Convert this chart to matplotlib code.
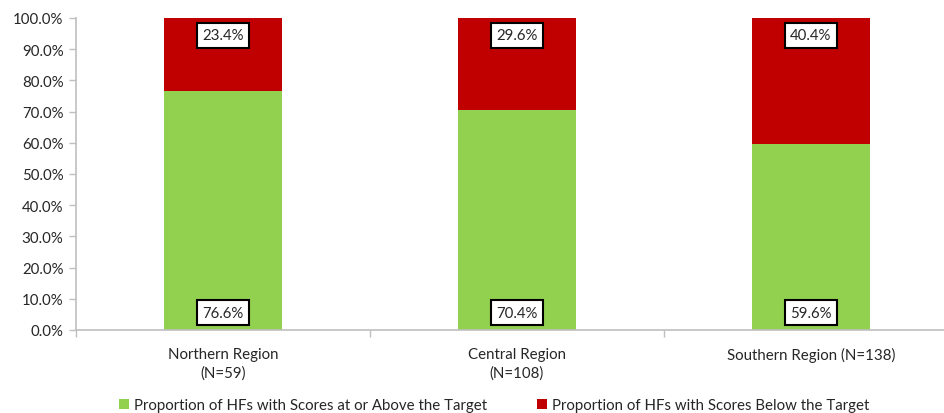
import matplotlib
matplotlib.use("Agg")
import matplotlib.pyplot as plt
import numpy as np

categories = ["Northern Region\n(N=59)", "Central Region\n(N=108)", "Southern Region (N=138)"]
above = [76.6, 70.4, 59.6]
below = [23.4, 29.6, 40.4]
series_names = ["Proportion of HFs with Scores at or Above the Target",
                "Proportion of HFs with Scores Below the Target"]
yticks = [0, 10, 20, 30, 40, 50, 60, 70, 80, 90, 100]

plt.rcParams['font.family'] = ['Lato', 'DejaVu Sans']
green = "#92D050"
red = "#C00000"
axc = "#BFBFBF"
txt = "#262626"
fs = 10.8

fig = plt.figure(figsize=(9.45, 4.14), dpi=100)
W, H = 945, 414
left, right, top, bottom = 76, 958, 19, 331
ax = fig.add_axes([left / W, 1 - bottom / H, (right - left) / W, (bottom - top) / H])

x = np.arange(len(categories))
bw = 0.40
ax.bar(x, above, bw, color=green, label=series_names[0], zorder=2)
ax.bar(x, below, bw, bottom=above, color=red, label=series_names[1], zorder=2)

box = dict(boxstyle="square,pad=0.38", fc="white", ec="black", lw=1.5)
for i in range(len(categories)):
    ax.annotate(f"{above[i]:.1f}%", xy=(x[i], 0), xytext=(0, 7.5), textcoords="offset points",
                ha="center", va="bottom", fontsize=fs, color=txt, bbox=box, zorder=3)
    ax.annotate(f"{below[i]:.1f}%", xy=(x[i], 100), xytext=(0, -7.5), textcoords="offset points",
                ha="center", va="top", fontsize=fs, color=txt, bbox=box, zorder=3)

ax.set_xlim(-0.5, len(categories) - 0.5)
ax.set_ylim(0, 100)
ax.set_yticks(yticks)
ax.set_yticklabels([f"{v:.1f}%" for v in yticks], fontsize=fs, color=txt)
ax.set_xticks(x)
ax.set_xticklabels(categories, fontsize=fs, color=txt, linespacing=1.4)
ax.set_xticks(np.arange(len(categories) + 1) - 0.5, minor=True)
ax.tick_params(axis="x", which="major", length=0, pad=12)
ax.tick_params(axis="x", which="minor", length=5, color=axc, width=1)
ax.tick_params(axis="y", length=5, color=axc, width=1, pad=4)

for s in ["top", "right"]:
    ax.spines[s].set_visible(False)
for s in ["left", "bottom"]:
    ax.spines[s].set_color(axc)
    ax.spines[s].set_linewidth(1.2)

leg = fig.legend(loc="center", bbox_to_anchor=(494 / W, 1 - 406 / H), ncol=2, frameon=False,
                 fontsize=fs, handlelength=0.7, handleheight=0.7, handletextpad=0.3,
                 columnspacing=3.3)
for t in leg.get_texts():
    t.set_color(txt)

fig.savefig("out.png", dpi=100)
